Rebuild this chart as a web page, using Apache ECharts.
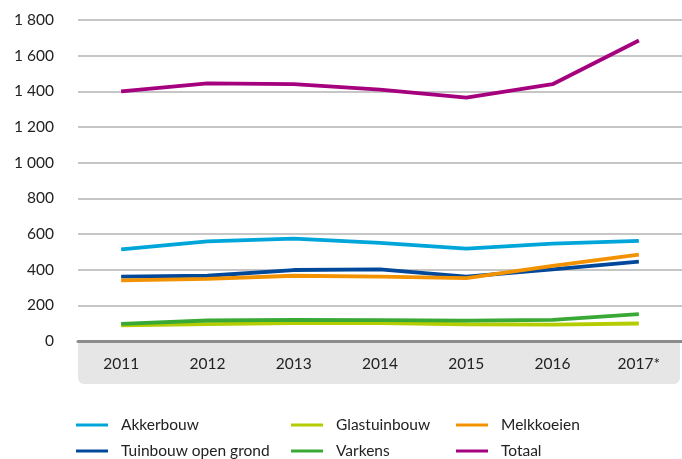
<!DOCTYPE html>
<html>
<head>
<meta charset="utf-8">
<script src="https://cdn.jsdelivr.net/npm/echarts@6/dist/echarts.min.js"></script>
<style>
  html, body { margin: 0; padding: 0; background: #fff; }
  #chart { width: 682px; height: 459px; }
</style>
</head>
<body>
<div id="chart"></div>
<script>
const years = ['2011', '2012', '2013', '2014', '2015', '2016', '2017*']

const akkerbouw = [514, 559, 574, 550, 518, 546, 561]
const tuinbouwOpenGrond = [361, 366, 398, 402, 361, 402, 445]
const glastuinbouw = [88, 95, 100, 100, 94, 92, 98]
const varkens = [96, 115, 118, 117, 114, 119, 151]
const melkkoeien = [340, 348, 366, 361, 353, 421, 484]
const totaal = [1400, 1445, 1440, 1410, 1365, 1440, 1685]

const FONT = 'Lato'
const FONTCOLOR = '#222'

const fmt = v => String(v).replace(/\B(?=(\d{3})+(?!\d))/g, ' ')

const line = (name, data, color) => ({
  name,
  type: 'line',
  data,
  symbol: 'none',
  lineStyle: { color, width: 3.8 },
  itemStyle: { color },
  z: 3
})

const legendBase = {
  orient: 'vertical',
  top: 417,
  height: 60,
  padding: 0,
  itemWidth: 32,
  itemHeight: 3,
  itemGap: 10,
  icon: 'rect',
  textStyle: {
    fontFamily: FONT,
    fontSize: 15.5,
    color: FONTCOLOR,
    padding: [0, 0, 7, 8]
  }
}

const chart = echarts.init(document.getElementById('chart'))
chart.setOption({
  animation: false,
  backgroundColor: '#fff',
  textStyle: { fontFamily: FONT },
  grid: { left: 78, right: 0, top: 20, bottom: 118 },
  graphic: [{
    type: 'rect',
    left: 78,
    top: 340,
    z: -10,
    shape: { width: 602, height: 44, r: [0, 0, 6, 6] },
    style: { fill: '#e6e6e6' }
  }],
  legend: [
    { ...legendBase, left: 76, data: ['Akkerbouw', 'Tuinbouw open grond'] },
    { ...legendBase, left: 291, data: ['Glastuinbouw', 'Varkens'] },
    { ...legendBase, left: 456, data: ['Melkkoeien', 'Totaal'] }
  ],
  xAxis: {
    type: 'category',
    data: years,
    boundaryGap: true,
    axisLine: { lineStyle: { color: '#8c8c8c', width: 3 } },
    axisTick: { alignWithLabel: true, length: 7, lineStyle: { color: '#999' } },
    axisLabel: { fontFamily: FONT, fontSize: 15.5, color: FONTCOLOR, margin: 15 }
  },
  yAxis: {
    type: 'value',
    min: 0,
    max: 1800,
    interval: 200,
    axisLine: { show: false },
    axisTick: { show: false },
    axisLabel: { fontFamily: FONT, fontSize: 15.5, color: FONTCOLOR, margin: 24, formatter: fmt },
    splitLine: { lineStyle: { color: '#b3b3b3', width: 1.5 } }
  },
  series: [
    line('Akkerbouw', akkerbouw, '#00a6d9'),
    line('Tuinbouw open grond', tuinbouwOpenGrond, '#00489a'),
    line('Glastuinbouw', glastuinbouw, '#b5cc00'),
    line('Varkens', varkens, '#38a935'),
    line('Melkkoeien', melkkoeien, '#f39200'),
    line('Totaal', totaal, '#a5007e')
  ]
})
</script>
</body>
</html>
